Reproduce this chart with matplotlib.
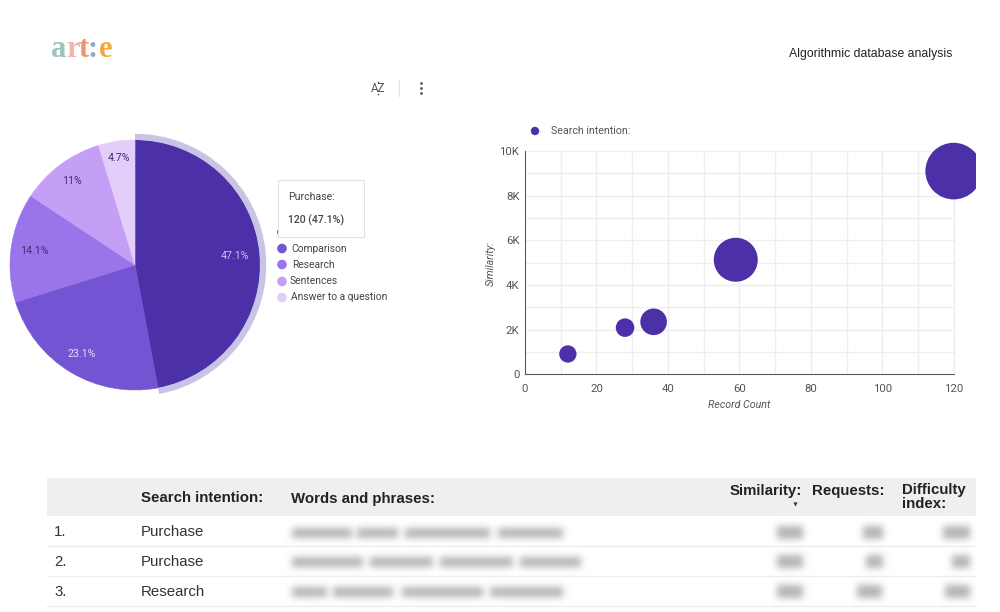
import numpy as np
import matplotlib
matplotlib.use("Agg")
import matplotlib.pyplot as plt
from matplotlib.patches import Wedge, Rectangle, Circle

W, H = 1000, 612

# pie data
intent = ["Purchase", "Comparison", "Research", "Sentences", "Answer to a question"]
record_count = [120, 59, 36, 28, 12]
pie_colors = ["#4b30a8", "#7355d3", "#9a75ea", "#c59ef6", "#e3cdfb"]

# bubble data
similarity = [9100, 5130, 2350, 2090, 910]
bubble_area = [801, 484, 177, 86, 75]
x_ticks = [0, 20, 40, 60, 80, 100, 120]
y_ticks = [0, 2000, 4000, 6000, 8000, 10000]
y_tick_labels = ["0", "2K", "4K", "6K", "8K", "10K"]

# table
row_num = ["1.", "2.", "3."]
row_intent = ["Purchase", "Purchase", "Research"]

SANS = "Liberation Sans"
ROBOTO = "Roboto"


def px_axes(x0, y0, x1, y1, **kw):
    # axes from pixel box, y counted from the top
    return fig.add_axes([x0 / W, 1 - y1 / H, (x1 - x0) / W, (y1 - y0) / H], **kw)


def blur(sigma):
    def f(im, dpi):
        pad = int(sigma * 3)
        out = np.pad(im, [(pad, pad), (pad, pad), (0, 0)], "constant")
        k = np.exp(-0.5 * (np.arange(-pad, pad + 1) / sigma) ** 2)
        k = k / k.sum()
        a = out[:, :, 3]
        a = np.apply_along_axis(lambda v: np.convolve(v, k, mode="same"), 0, a)
        a = np.apply_along_axis(lambda v: np.convolve(v, k, mode="same"), 1, a)
        out[:, :, 3] = a
        out[:, :, :3] = im[im[:, :, 3] > 0][0, :3]
        return out, -pad, -pad
    return f


fig = plt.figure(figsize=(W / 100, H / 100), dpi=100, facecolor="white")

# page level stuff
page = px_axes(0, 0, W, H)
page.set_xlim(0, W)
page.set_ylim(H, 0)
page.axis("off")

# logo
for ch, x, c in [("a", 51, "#9cc3bd"), ("r", 66, "#f1b5aa"), ("t", 78.5, "#f0956f"),
                 (":", 88, "#8fa8c4"), ("e", 98.5, "#f6a63f")]:
    page.text(x, 57, ch, color=c, fontsize=22, family="Liberation Serif",
              weight="bold", ha="left", va="baseline")

page.text(952, 53.5, "Algorithmic database analysis", family=SANS, fontsize=8.8,
          color="#222222", ha="right", va="center")

# little toolbar above the pie
page.text(378, 88.5, "AZ", family=ROBOTO, fontsize=8.4, color="#555555", ha="center", va="center")
page.scatter([378, 378], [82, 94], s=1.5, color="#555555", lw=0)
page.plot([399, 399], [80, 96], color="#e3e3e3", lw=0.8)
page.scatter([421, 421, 421], [83, 88, 93], s=4, color="#555555", lw=0)

# pie
cx, cy, r = 135, 265, 125
box = r * 1.1
ax = px_axes(cx - box, cy - box, cx + box, cy + box)
share = np.array(record_count) / sum(record_count)


def pct_text(p):
    return f"{p:.1f}".rstrip("0").rstrip(".") + "%"


wedges, texts, autotexts = ax.pie(record_count, colors=pie_colors, startangle=90,
                                  counterclock=False, radius=1,
                                  autopct=pct_text,
                                  textprops=dict(family=ROBOTO, fontsize=7.7))
for w, c in zip(wedges, pie_colors):
    w.set_edgecolor(c)
    w.set_linewidth(0.4)
# the labels do not sit on one ring in the source
label_ring = [0.8, 0.83, 0.81, 0.84, 0.865]
label_colors = ["#c9c0ee", "#e4dcf8", "#3d2f70", "#3d2f70", "#3d2f70"]
for w, t, d, c in zip(wedges, autotexts, label_ring, label_colors):
    mid = np.deg2rad((w.theta1 + w.theta2) / 2)
    t.set_position((d * np.cos(mid), d * np.sin(mid)))
    t.set_color(c)
ax.add_patch(Wedge((0, 0), 1.05, 90 - 360 * share[0], 90, width=0.05,
                   facecolor="#c9c4e6", edgecolor="none"))
ax.set_xlim(-1.1, 1.1)
ax.set_ylim(-1.1, 1.1)
ax.axis("off")

# pie legend + tooltip
legend_y = [232, 248.5, 264.5, 281.5, 297.5]
legend_x = [291, 291, 292.5, 290, 291]
for name, c, lx, ly in zip(intent, pie_colors, legend_x, legend_y):
    page.add_patch(Circle((282, ly), 4.8, facecolor=c, edgecolor="none", zorder=2))
    page.text(lx, ly, name, family=ROBOTO, fontsize=7.4, color="#444444", ha="left", va="center", zorder=2)
page.add_patch(Rectangle((278, 180), 87, 58, facecolor="#d8d8d8", edgecolor="none", zorder=3))
page.add_patch(Rectangle((277.5, 179.5), 86.5, 57, facecolor="white", edgecolor="#e2e2e2", lw=0.8, zorder=4))
page.text(288.5, 196.5, intent[0] + ":", family=ROBOTO, fontsize=7.6, color="#444444", va="center", zorder=5)
page.text(288.5, 220.5, f"{record_count[0]} ({pct_text(share[0] * 100)})", family=ROBOTO,
          fontsize=7.6, weight="medium", color="#444444", va="center", zorder=5)

# bubble chart, axes run past 120 / 10K so the big bubble fits
x0, x120, y0, y10k = 525, 953.7, 374.3, 151
top, right = 140, 976
bx = px_axes(x0, top, right, y0)
bx.set_xlim(0, (right - x0) / (x120 - x0) * 120)
bx.set_ylim(0, (y0 - top) / (y0 - y10k) * 10000)
bx.patch.set_alpha(0)
for v in range(10, 130, 10):
    bx.plot([v, v], [0, 10000], color="#eeeeee", lw=1.0, zorder=1)
for v in range(1000, 11000, 1000):
    bx.plot([0, 120], [v, v], color="#eeeeee", lw=1.0, zorder=1)
bx.scatter(record_count, similarity, s=np.array(bubble_area) * 4 * 0.72 ** 2,
           color=pie_colors[0], linewidths=0, zorder=3)
bx.set_xticks(x_ticks)
bx.set_yticks(y_ticks)
bx.set_yticklabels(y_tick_labels)
bx.tick_params(length=0, labelsize=8.2, labelcolor="#555555")
bx.tick_params(axis="x", pad=7)
bx.tick_params(axis="y", pad=4)
for lab in bx.get_xticklabels() + bx.get_yticklabels():
    lab.set_family(ROBOTO)
for s in ["top", "right"]:
    bx.spines[s].set_visible(False)
bx.spines["left"].set_bounds(0, 10000)
bx.spines["bottom"].set_bounds(0, 120)
bx.spines["left"].set_color("#5a5a5a")
bx.spines["bottom"].set_color("#5a5a5a")
page.text(739, 405, "Record Count", family=ROBOTO, style="italic", fontsize=7.7,
          color="#555555", ha="center", va="center")
page.text(491, 263, "Similarity:", family=ROBOTO, style="italic", fontsize=7.7,
          color="#555555", ha="center", va="center", rotation=90)
page.add_patch(Circle((535, 131), 4.2, facecolor=pie_colors[0], edgecolor="none"))
page.text(551, 131.5, "Search intention:", family=ROBOTO, fontsize=7.7, color="#555555", va="center")

# table
page.add_patch(Rectangle((47, 478), 929, 38, facecolor="#efefef", edgecolor="none"))
for y in [546, 576, 606]:
    page.plot([47, 976], [y, y], color="#eeeeee", lw=1)

head = dict(family=SANS, weight="bold", fontsize=10.8, color="#222222", va="center")
page.text(141, 498.5, "Search intention:", **head)
page.text(291, 498.5, "Words and phrases:", **head)
page.text(730, 491, "Similarity:", **head)
page.text(812, 491.5, "Requests:", **head)
page.text(902, 497, "Difficulty\nindex:", linespacing=1.0, **head)
page.scatter([795], [503.5], marker="v", s=9, color="#333333", lw=0)

body = dict(family=SANS, fontsize=10.8, color="#333333", va="center")
row_y = [532.5, 561.5, 591.5]
for y, n, name in zip(row_y, row_num, row_intent):
    page.text(54, y, n, **body)
    page.text(141, y, name, **body)

# the phrases and numbers are blurred out in the source, smudges only
smudges = [
    [(292, 352), (357, 398), (405, 490), (498, 563), (777, 803), (863, 883), (943, 970)],
    [(292, 363), (370, 433), (440, 513), (520, 581), (777, 803), (866, 883), (952, 970)],
    [(292, 327), (333, 393), (402, 483), (490, 563), (777, 803), (857, 882), (945, 970)],
]
for y, segs in zip(row_y, smudges):
    for a, b in segs:
        tall = 13 if a > 700 else 10
        bar = Rectangle((a, y - tall / 2), b - a, tall, facecolor="#a8a8a8", edgecolor="none", alpha=0.85)
        bar.set_agg_filter(blur(3.5))
        page.add_patch(bar)

fig.savefig("out.png", dpi=100)
